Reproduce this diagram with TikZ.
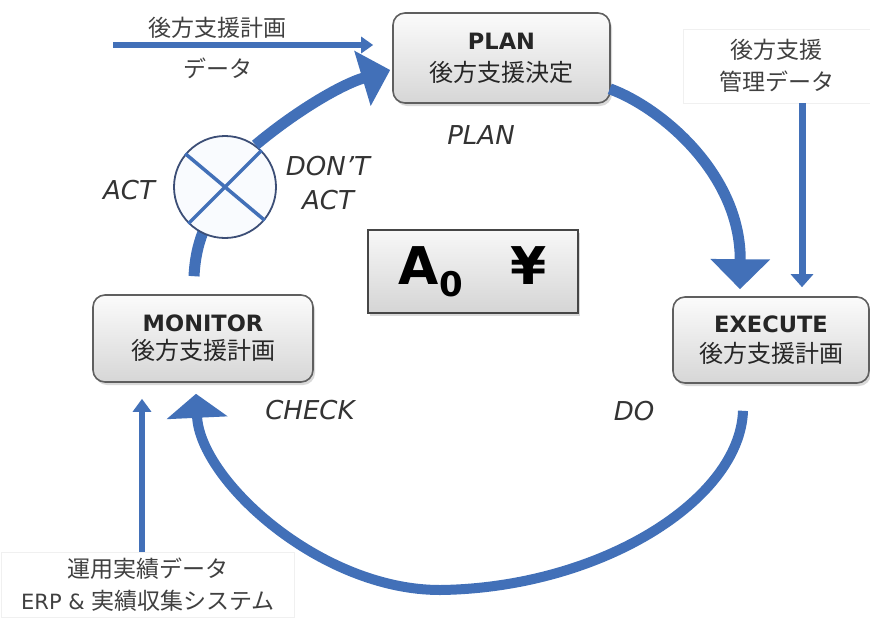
\documentclass[tikz,border=0pt]{standalone}
\usepackage{fontspec}
\setmainfont{DejaVu Sans}
\newfontfamily\jp{Noto Sans CJK JP}
\usetikzlibrary{arrows.meta,shadows,calc}

\definecolor{flowblue}{RGB}{66,112,184}
\definecolor{gateedge}{RGB}{60,78,118}
\definecolor{gatefill}{RGB}{249,251,254}
\definecolor{boxedge}{RGB}{95,95,95}

\tikzset{
  stage/.style={draw=boxedge, line width=1.6pt, rounded corners=12pt,
    top color=gray!3, bottom color=gray!32,
    drop shadow={opacity=0.3, shadow xshift=2pt, shadow yshift=-3pt},
    align=center, inner sep=0pt, text=black!85},
  cycle/.style={draw=flowblue, line width=11pt},
  feed/.style={draw=flowblue, line width=6pt},
  phase/.style={font=\fontsize{26}{30}\selectfont\itshape, text=black!80},
  note/.style={draw=gray!12, line width=0.8pt, align=center, inner sep=0pt,
    font=\jp\fontsize{23}{32}\selectfont, text=black!75},
  label/.style={font=\jp\fontsize{23}{28}\selectfont, text=black!75}
}
% heading and body lines of a stage box
\newcommand\stagehead[1]{{\fontsize{22.5}{31}\selectfont\bfseries #1}}
\newcommand\stagebody[1]{{\jp\fontsize{24}{31}\selectfont #1}}

\begin{document}
\begin{tikzpicture}[x=1pt,y=-1pt]
  \useasboundingbox (0,0) rectangle (870,619);

  % stage boxes
  \node[stage, font=\fontsize{24}{32}\selectfont, minimum width=217pt, minimum height=90pt] (plan) at (501.5,58)
    {\stagehead{PLAN}\\\stagebody{後方支援決定}};
  \node[stage, font=\fontsize{24}{28}\selectfont, minimum width=220pt, minimum height=87pt] (monitor) at (203,338.5)
    {\stagehead{MONITOR}\\\stagebody{後方支援計画}};
  \node[stage, font=\fontsize{24}{30}\selectfont, minimum width=196pt, minimum height=86pt] (execute) at (771,340)
    {\stagehead{EXECUTE}\\\stagebody{後方支援計画}};

  % central value box
  \node[draw=gray!55!black, line width=1.3pt, top color=gray!6, bottom color=gray!33,
        drop shadow={opacity=0.3, shadow xshift=2pt, shadow yshift=-3pt},
        minimum width=210pt, minimum height=83pt, inner sep=0pt] (value) at (473,271.5)
    {\fontsize{52}{52}\selectfont\bfseries A\raisebox{-12pt}{\fontsize{34}{34}\selectfont 0}\hspace{48pt}¥};

  % input notes
  \node[note, minimum width=187pt, minimum height=74pt] (mgmt) at (776.5,66)
    {後方支援\\管理データ};
  \node[note, minimum width=293pt, minimum height=65pt] (ops) at (148,584.5)
    {運用実績データ\\{\fontspec{DejaVu Sans}\fontsize{21}{32}\selectfont ERP \& }実績収集システム};

  % ACT / DON'T ACT gate
  \draw[flowblue, line width=11pt]
    ([shift={(-9,-18)}]monitor.north) .. controls (195,258) and (198,245) .. (203,232);
  \node[circle, draw=gateedge, line width=1.8pt, fill=gatefill, minimum size=102pt, inner sep=0pt]
    (gate) at (225,187) {};
  \draw[flowblue, line width=3.5pt] (gate.140) -- (gate.-40);
  \draw[flowblue, line width=3.5pt] (gate.-135) -- (gate.45);

  % main cycle
  \draw[cycle, -{Triangle[length=29pt, width=56pt]}]
    (gate.54) .. controls (295,112) and (340,85) .. ([shift={(-2,12)}]plan.west);
  \draw[cycle, -{Triangle[length=30pt, width=58pt]}]
    ([shift={(-1,-15)}]plan.south east) .. controls (662,108) and (741,175) .. ([shift={(-31,-7)}]execute.north);
  \draw[cycle, line width=10pt, -{Triangle[length=24pt, width=60pt]}]
    ([shift={(-28,27)}]execute.south) .. controls (740,500) and (600,588) .. (440,590)
    .. controls (320,590) and (200,480) .. ([shift={(-7,11)}]monitor.south);

  % feed-in arrows
  \coordinate (planin) at (113,45);
  \draw[feed, -{Triangle[length=12pt, width=16pt]}] (planin) -- ([shift={(-19,-13)}]plan.west);
  \draw[feed, line width=7pt, -{Triangle[length=13pt, width=22pt]}] (mgmt.south -| 802,0) -- ([shift={(31,-9)}]execute.north);
  \draw[feed, line width=6.5pt, -{Triangle[length=13pt, width=18pt]}] (ops.north -| 142,0) -- ([shift={(-61,16)}]monitor.south);

  % texts on the plan input
  \node[label] (plantop) at (217,28) {後方支援計画};
  \node[label] (planbot) at (218,68) {データ};

  % phase labels
  \node[phase] (lplan) at (481,135) {PLAN};
  \node[phase] (lact) at (129,190) {ACT};
  \node[phase, align=center, font=\fontsize{26}{34}\selectfont\itshape] (ldont) at (328,183) {DON’T\\ACT};
  \node[phase] (lcheck) at (310,410) {CHECK};
  \node[phase] (ldo) at (634,411) {DO};
\end{tikzpicture}
\end{document}
